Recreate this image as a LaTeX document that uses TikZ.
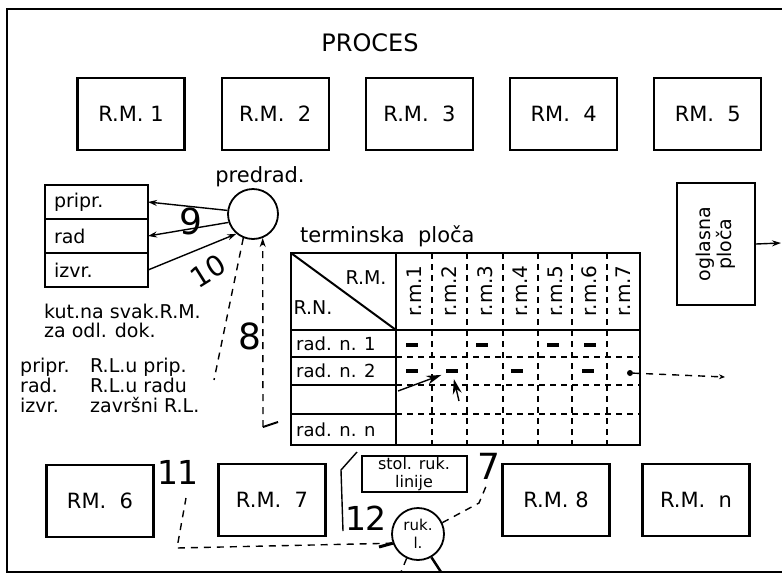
\documentclass[tikz,border=0pt]{standalone}
\usepackage{fontspec}
\setmainfont{DejaVu Sans}
\usetikzlibrary{arrows.meta, calc, positioning}
\tikzset{
  frame/.style  ={line width=2pt},
  rmbox/.style  ={draw, line width=2.2pt, minimum width=107pt, minimum height=72pt, inner sep=0pt, font=\fontsize{21}{23}\selectfont},
  lstrow/.style ={draw, line width=2pt, outer sep=0pt, minimum width=103pt, minimum height=34pt, text width=85pt, align=left, font=\fontsize{19}{21}\selectfont},
  krug/.style   ={draw, circle, line width=1.8pt, inner sep=0pt},
  lbl/.style    ={inner sep=0pt, font=\fontsize{19}{19}\selectfont},
  title/.style  ={inner sep=0pt, font=\fontsize{24}{26}\selectfont},
  bignum/.style ={inner sep=0pt, font=\fontsize{36}{36}\selectfont},
  colhd/.style  ={rotate=90, inner sep=0pt, font=\fontsize{20}{20}\selectfont},
  entry/.style  ={fill, minimum width=12pt, minimum height=4pt, inner sep=0pt},
  arr/.style    ={-{Stealth[length=9pt, width=6pt]}, line width=1.4pt},
  dline/.style  ={line width=1.4pt, dash pattern=on 7pt off 6pt},
  tline/.style  ={line width=2pt},
  cline/.style  ={line width=1.2pt, dash pattern=on 6pt off 5pt},
}
\begin{document}
\begin{tikzpicture}[x=1pt, y=-1pt, node distance=35pt]
  \useasboundingbox (0,0) rectangle (782,574);
  % outer frame, open on the right
  \draw[frame] (782,9) -- (7,9) -- (7,572) -- (782,572);
  \node[title] (proc) at (370,43) {PROCES};

  % work places, top row
  \node[rmbox] (rm1) at (131,114) {R.M.\ 1};
  \node[rmbox, right=of rm1] (rm2) {R.M.\ \ 2};
  \node[rmbox, right=of rm2] (rm3) {R.M.\ \ 3};
  \node[rmbox, right=of rm3] (rm4) {RM.\ \ 4};
  \node[rmbox, right=of rm4] (rm5) {RM.\ \ 5};

  % work places, bottom row
  \node[rmbox] (rm6) at (100,501) {RM.\ \ 6};
  \node[rmbox] (rm7) at (272,500) {R.M.\ \ 7};
  \node[rmbox] (rm8) at (556,500) {R.M.\ 8};
  \node[rmbox] (rmn) at (696,500) {R.M.\ \ n};

  % preparation
  \node[krug, minimum size=50pt] (pre) at (253,214) {};
  \node[lbl, font=\fontsize{21}{21}\selectfont] (pretx) at (260,177) {predrad.};
  \node[lstrow, anchor=north west] (pripr) at (45,185) {pripr.};
  \node[lstrow, below=0pt of pripr] (rad) {rad};
  \node[lstrow, below=0pt of rad] (izvr) {izvr.};
  \draw[arr] (pre.172) -- (pripr.east);
  \draw[arr] (pre.199) -- (rad.east);
  \draw[arr] (izvr.east) -- (pre.230);
  \node[bignum] (n9) at (191,221) {9};
  \node[bignum, rotate=32, font=\fontsize{28}{28}\selectfont] (n10) at (208,271) {10};

  \node[lbl, anchor=north west, align=left] (kut) at (44,304) {kut.na svak.R.M.\\za odl. dok.};
  \node[lbl, anchor=north west, align=left, font=\fontsize{19}{20}\selectfont] (leg1) at (20,358) {pripr.\\rad.\\izvr.};
  \node[lbl, anchor=north west, align=left, font=\fontsize{19}{20}\selectfont] (leg2) at (90,358) {R.L.u prip.\\R.L.u radu\\završni R.L.};

  % line 8
  \coordinate (c8) at (263,427);
  \coordinate (c8s) at (278,422);
  \coordinate (c8b) at (214,380);
  \draw[dline, -{Stealth[length=9pt, width=6pt]}] (c8) -- (pre.-68);
  \draw[tline] (c8) -- (c8s);
  \draw[dline] (pre.-112) -- (c8b);
  \node[bignum] (n8) at (250,336) {8};

  % terminal board
  \node[lbl, anchor=west, font=\fontsize{21}{21}\selectfont] (term) at (300,236) {terminska\ \ ploča};
  \draw[tline] (291,253) rectangle (640,445);
  \draw[tline] (291,330) -- (640,330);
  \draw[tline] (396,253) -- (396,445);
  \draw[tline] (291,253) -- (396,330);
  \node[lbl] (hrm) at (366,278) {R.M.};
  \node[lbl] (hrn) at (313,308) {R.N.};
  \foreach \y in {357,385,414} {
    \draw[tline] (291,\y) -- (396,\y);
    \draw[cline] (396,\y) -- (640,\y);
  }
  \foreach \x in {432,467,503,538,572,607}
    \draw[cline] (\x,253) -- (\x,445);
  \foreach \i/\x in {1/414,2/449.5,3/485,4/520.5,5/555,6/589.5,7/623.5}
    \node[colhd] (r\i) at (\x,291) {r.m.\i};
  \node[lbl, anchor=west, font=\fontsize{18}{18}\selectfont] (rn1) at (296,344) {rad. n. 1};
  \node[lbl, anchor=west, font=\fontsize{18}{18}\selectfont] (rn2) at (296,371) {rad. n. 2};
  \node[lbl, anchor=west, font=\fontsize{18}{18}\selectfont] (rnn) at (296,430) {rad. n. n};

  % entries
  \node[entry] (m11) at (412,345) {};
  \node[entry] (m13) at (482,345) {};
  \node[entry] (m15) at (553,345) {};
  \node[entry] (m16) at (590,345) {};
  \node[entry] (m21) at (412,371) {};
  \node[entry] (m22) at (452,371) {};
  \node[entry] (m24) at (517,371) {};
  \node[entry] (m26) at (588,371) {};
  \node[fill, circle, minimum size=6pt, inner sep=0pt] (m27) at (630,373) {};
  \coordinate (a12) at (398,391);
  \coordinate (a7) at (459,401);
  \draw[arr, -{Stealth[length=15pt, width=9pt]}, shorten >=5pt] (a12) -- (m22);
  \draw[arr, -{Stealth[length=15pt, width=9pt]}, shorten >=6pt] (a7) -- (m22);

  % notice board
  \node[draw, line width=2pt, minimum width=78pt, minimum height=122pt] (ogl) at (716,244) {};
  \node[colhd, align=center, font=\fontsize{19}{21}\selectfont] (ogltx) at (ogl) {oglasna\\ploča};
  \coordinate (oout) at (781,243);
  \draw[arr] (ogl.east) -- (oout);
  \coordinate (rout) at (725,377);
  \draw[dline, -{Stealth[length=6pt, width=5pt]}] (m27) -- (rout);

  % line leader
  \node[draw, line width=2pt, minimum width=105pt, minimum height=36pt, inner sep=0pt, align=center, font=\fontsize{16}{18.5}\selectfont] (stol) at (414,474) {stol. ruk.\\linije};
  \node[krug, minimum size=52pt, align=center, font=\fontsize{15}{17.5}\selectfont] (ruk) at (418,534) {ruk.\\l.};

  % line 7
  \coordinate (c7a) at (479,503);
  \coordinate (c7b) at (487,484);
  \draw[dline] (ruk.25) -- (c7a) -- (c7b);
  \node[bignum] (n7) at (489,466) {7};

  % line 12
  \coordinate (c12a) at (343,531);
  \coordinate (c12b) at (341,470);
  \coordinate (c12c) at (357,452);
  \draw[line width=1.4pt] (c12a) -- (c12b) -- (c12c);
  \node[bignum, font=\fontsize{33}{33}\selectfont] (n12) at (366,518) {12};

  % line 11
  \coordinate (c11a) at (177,548);
  \coordinate (c11b) at (186,498);
  \coordinate (c11s) at (379,547);
  \draw[dline] (ruk.200) -- (c11a) -- (c11b);
  \draw[line width=3pt] (c11s) -- (ruk.200);
  \node[bignum, font=\fontsize{33}{33}\selectfont] (n11) at (178,472) {11};

  % to the frame
  \coordinate (cb1) at (441,572);
  \coordinate (cb2) at (401,572);
  \draw[line width=2.5pt] (ruk.-60) -- (cb1);
  \draw[dline] (ruk.-115) -- (cb2);
\end{tikzpicture}
\end{document}
